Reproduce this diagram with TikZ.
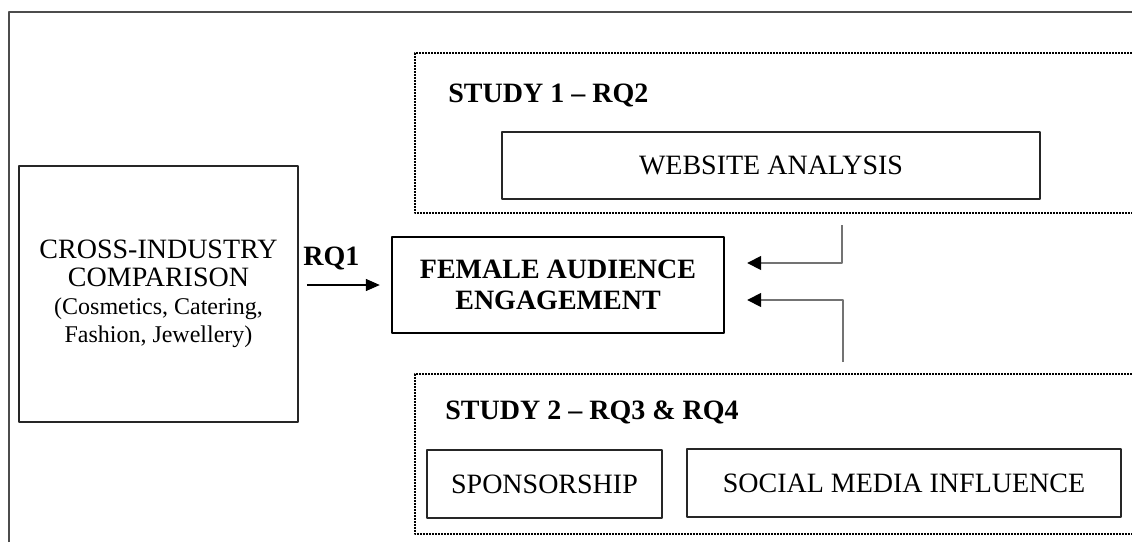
\documentclass[tikz,border=0pt]{standalone}
\usepackage{fontspec}
\setmainfont{Liberation Serif}
\usetikzlibrary{arrows.meta}
\tikzset{
	box/.style={draw=black!85,line width=0.8pt,inner sep=0pt,align=center},
	studyline/.style={line width=1pt,dash pattern=on 0.9pt off 0.6pt},
	feed/.style={draw=black!55,line width=0.8pt,-{Triangle[length=7pt,width=7pt,color=black]}},
}
\begin{document}
\begin{tikzpicture}[x=0.5pt,y=-0.5pt,font=\fontsize{14}{15.5}\selectfont,line join=round,>={Triangle[length=7pt,width=6pt]}]
	\useasboundingbox (0,0) rectangle (1132,542);
	% outer frame, only top and left edge visible
	\draw[black!70,line width=1.1pt] (9,542)--(9,12)--(1132,12);
	% dotted study panels, open to the right
	\draw[studyline] (1132,53)--(415,53)--(415,213)--(1132,213);
	\draw[studyline] (1132,374)--(415,374)--(415,534)--(1132,534);
	\path
	(842,213) coordinate (s1)
	(843,374) coordinate (s2)
	;
	\node[box,minimum width=139.5pt,minimum height=128pt,font=\fontsize{14}{14}\selectfont] (cross) at (158.5,294)
	{CROSS-INDUSTRY\\COMPARISON\\{\fontsize{12}{13}\selectfont(Cosmetics, Catering,}\\{\fontsize{12}{13}\selectfont Fashion, Jewellery)}};
	\node[box,line width=1.2pt,draw=black,minimum width=166pt,minimum height=48pt,font=\fontsize{14}{15.5}\selectfont\bfseries] (fae) at (558,285)
	{FEMALE AUDIENCE\\ENGAGEMENT};
	\node[box,minimum width=269pt,minimum height=33.5pt] (web) at (771,165.5) {WEBSITE ANALYSIS};
	\node[box,minimum width=117.5pt,minimum height=34pt] (spon) at (544.5,484) {SPONSORSHIP};
	\node[box,minimum width=217pt,minimum height=34pt] (smi) at (904,483) {SOCIAL MEDIA INFLUENCE};
	\node[anchor=base west,inner sep=0pt,font=\fontsize{14}{15.5}\selectfont\bfseries] (st1) at (448,102) {STUDY 1 – RQ2};
	\node[anchor=base west,inner sep=0pt,font=\fontsize{14}{15.5}\selectfont\bfseries] (st2) at (445,419) {STUDY 2 – RQ3 \& RQ4};
	\node[anchor=base west,inner sep=0pt,font=\fontsize{14}{15.5}\selectfont\bfseries] (rq1) at (303,265) {RQ1};
	\draw[->,line width=0.7pt,shorten <=4pt,shorten >=5.5pt] (cross.east |- fae.west) -- (fae.west);
	\draw[feed,shorten <=6pt,shorten >=11pt] (s1) |- ([yshift=11pt]fae.east);
	\draw[feed,shorten <=6pt,shorten >=11pt] (s2) |- ([yshift=-7.5pt]fae.east);
\end{tikzpicture}
\end{document}
